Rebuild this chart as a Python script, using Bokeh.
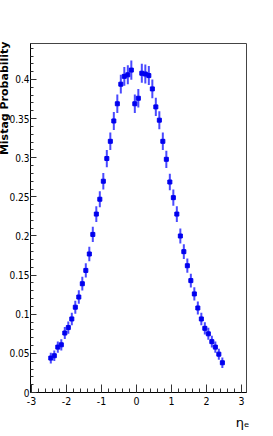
from bokeh.plotting import figure
from bokeh.models import (ColumnDataSource, Range1d, SingleIntervalTicker,
                          CustomJSTickFormatter, Title)
from bokeh.embed import file_html
from bokeh.resources import INLINE

# ---- data ----
eta = [-2.45, -2.35, -2.25, -2.15, -2.05, -1.95, -1.85, -1.75, -1.65, -1.55,
       -1.45, -1.35, -1.25, -1.15, -1.05, -0.95, -0.85, -0.75, -0.65, -0.55,
       -0.45, -0.35, -0.25, -0.15, -0.05, 0.05, 0.15, 0.25, 0.35, 0.45,
       0.55, 0.65, 0.75, 0.85, 0.95, 1.05, 1.15, 1.25, 1.35, 1.45,
       1.55, 1.65, 1.75, 1.85, 1.95, 2.05, 2.15, 2.25, 2.35, 2.45]
mistag = [0.044, 0.047, 0.058, 0.061, 0.076, 0.083, 0.094, 0.109, 0.122, 0.139,
          0.156, 0.177, 0.202, 0.228, 0.247, 0.270, 0.299, 0.321, 0.347, 0.369,
          0.394, 0.404, 0.406, 0.412, 0.369, 0.376, 0.408, 0.407, 0.405, 0.388,
          0.365, 0.348, 0.321, 0.298, 0.269, 0.249, 0.228, 0.200, 0.180, 0.162,
          0.143, 0.126, 0.108, 0.094, 0.082, 0.075, 0.065, 0.058, 0.049, 0.038]
err = [0.0068, 0.0068, 0.0072, 0.0072, 0.0076, 0.0078, 0.0080, 0.0083, 0.0086, 0.0088,
       0.0091, 0.0094, 0.0097, 0.0100, 0.0103, 0.0106, 0.0110, 0.0112, 0.0115, 0.0118,
       0.0120, 0.0121, 0.0121, 0.0122, 0.0118, 0.0119, 0.0122, 0.0121, 0.0121, 0.0119,
       0.0117, 0.0115, 0.0112, 0.0110, 0.0106, 0.0104, 0.0100, 0.0096, 0.0093, 0.0091,
       0.0088, 0.0085, 0.0082, 0.0080, 0.0078, 0.0077, 0.0074, 0.0072, 0.0070, 0.0066]

y_title = "Mistag Probability"
x_title = "ηₑ"

src = ColumnDataSource(dict(
    x=eta, y=mistag,
    lo=[v - e for v, e in zip(mistag, err)],
    hi=[v + e for v, e in zip(mistag, err)],
))

FONT = "'Liberation Sans Narrow', 'DejaVu Sans Condensed', sans-serif"

p = figure(width=273, height=436, output_backend="svg", toolbar_location=None,
           x_range=Range1d(-3.03, 3.14), y_range=Range1d(0, 0.446),
           min_border_left=27, min_border_right=27, min_border_top=43,
           min_border_bottom=44)
p.background_fill_color = "white"
p.border_fill_color = "white"
p.outline_line_color = "#444444"
p.outline_line_width = 1
p.xgrid.visible = False
p.ygrid.visible = False

fmt = CustomJSTickFormatter(code="return String(Math.round(tick*100)/100);")

p.xaxis.ticker = SingleIntervalTicker(interval=1, num_minor_ticks=5)
p.yaxis.ticker = SingleIntervalTicker(interval=0.05, num_minor_ticks=5)
for ax in (p.xaxis, p.yaxis):
    ax.formatter = fmt
    ax.axis_line_color = "black"
    ax.axis_line_width = 1
    ax.major_tick_line_color = "#333333"
    ax.minor_tick_line_color = "#333333"
    ax.major_tick_out = 0
    ax.minor_tick_out = 0
    ax.major_label_text_font = FONT
    ax.major_label_text_font_size = "10px"
    ax.major_label_text_color = "black"
p.xaxis.major_label_text_font_size = "10.5px"
p.xaxis.major_tick_in = 8
p.xaxis.minor_tick_in = 4
p.yaxis.major_tick_in = 6
p.yaxis.minor_tick_in = 3
p.xaxis.major_label_standoff = 4
p.yaxis.major_label_standoff = 1

p.segment(x0="x", y0="lo", x1="x", y1="hi", source=src,
          line_color="#2a2aff", line_width=2, line_alpha=0.85)
p.scatter(x="x", y="y", source=src, marker="square", size=4,
          fill_color="#0000ee", line_color="#0000ee")

p.add_layout(Title(text=y_title, align="right",
                   text_font="DejaVu Sans",
                   text_font_style="bold", text_font_size="11px",
                   text_color="black", standoff=-9, offset=-2), "left")
p.add_layout(Title(text=x_title, align="right", text_font="DejaVu Sans",
                   text_font_style="normal", text_font_size="13px",
                   text_color="black", standoff=10, offset=-3), "below")

open("out.html", "w").write(file_html(p, INLINE))
